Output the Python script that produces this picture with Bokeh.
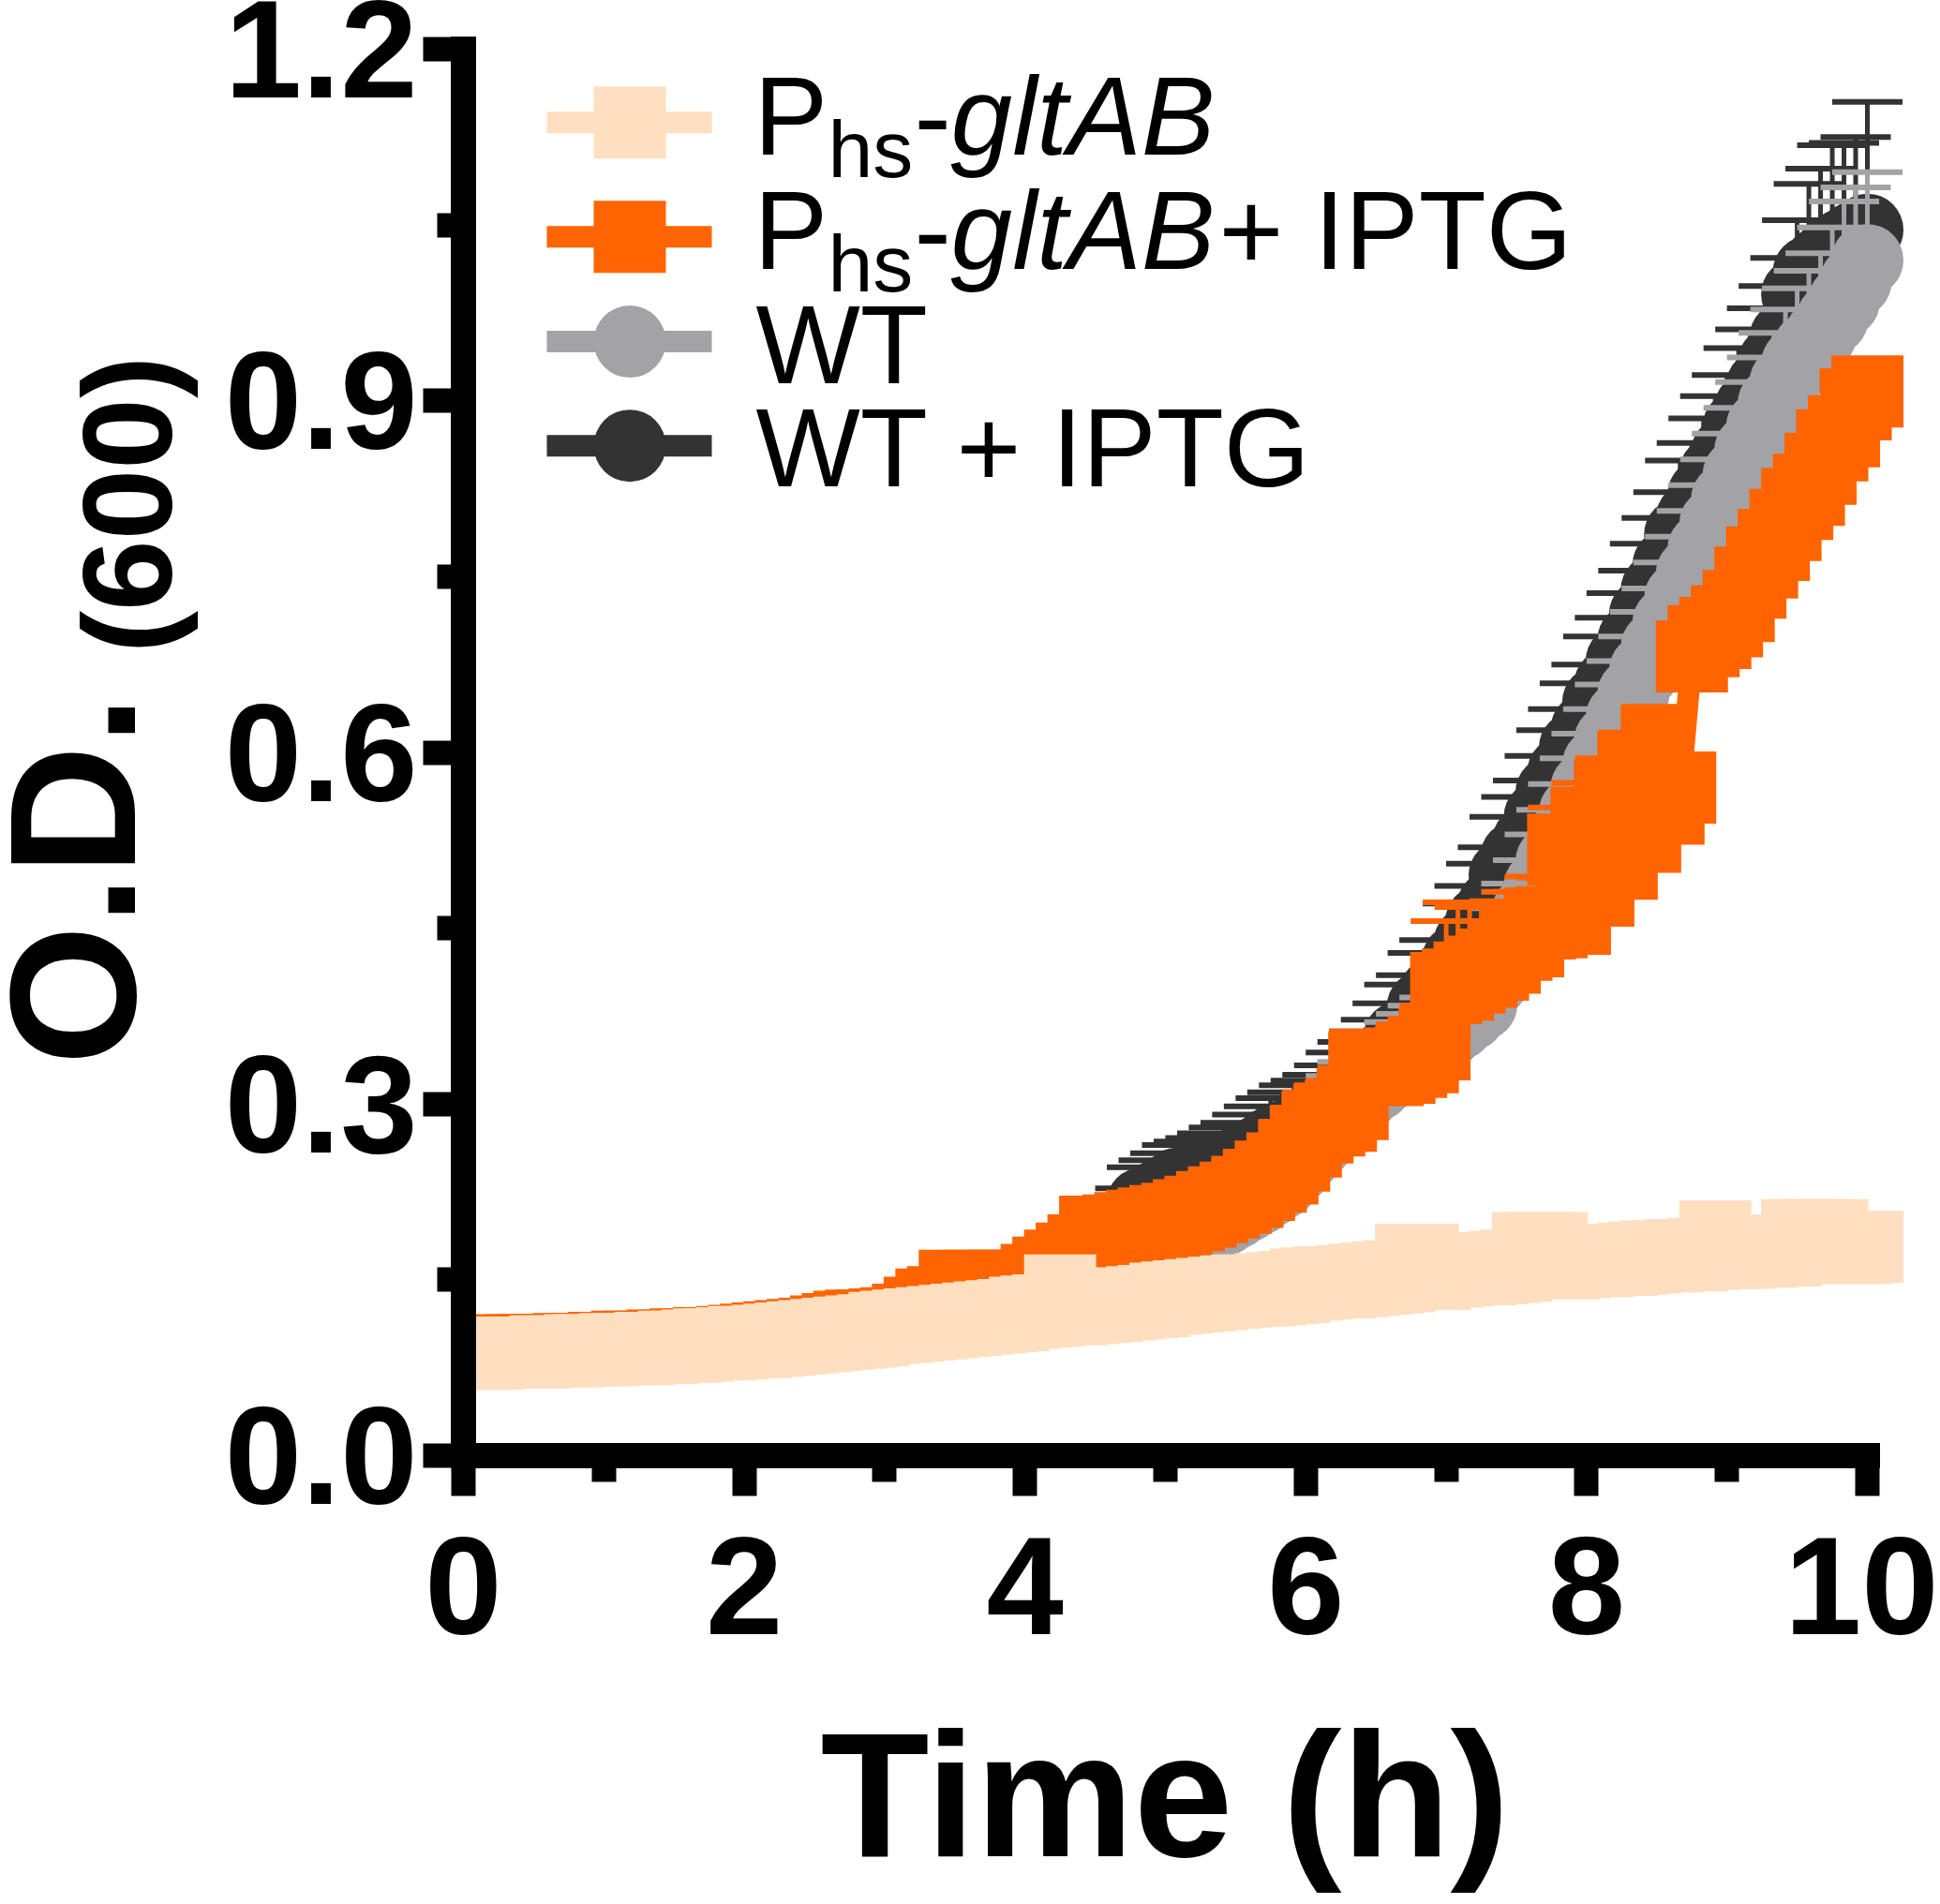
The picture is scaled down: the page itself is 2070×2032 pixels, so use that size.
import math
from bokeh.plotting import figure
from bokeh.models import (FixedTicker, PrintfTickFormatter, Label, Range1d, LinearAxis,
                          CustomJSTickFormatter)
from bokeh.embed import file_html
from bokeh.resources import INLINE

# ---------------- data ----------------
time_min = list(range(0, 605, 5))          # reading every 5 min, 0-10 h
time_h = [m / 60 for m in time_min]

series_names = ["Phs-gltAB", "Phs-gltAB + IPTG", "WT", "WT + IPTG"]

od_phs = [0.087, 0.087, 0.087, 0.088, 0.088, 0.088, 0.088, 0.089, 0.089, 0.089, 0.090, 0.090,
          0.090, 0.091, 0.091, 0.091, 0.092, 0.092, 0.093, 0.093, 0.094, 0.095, 0.095, 0.096,
          0.097, 0.097, 0.098, 0.099, 0.100, 0.101, 0.102, 0.103, 0.104, 0.105, 0.106, 0.107,
          0.109, 0.110, 0.111, 0.112, 0.113, 0.114, 0.115, 0.116, 0.117, 0.118, 0.119, 0.120,
          0.122, 0.123, 0.124, 0.141, 0.125, 0.126, 0.127, 0.128, 0.129, 0.130, 0.131, 0.132,
          0.134, 0.135, 0.136, 0.137, 0.138, 0.139, 0.140, 0.141, 0.141, 0.142, 0.143, 0.144,
          0.146, 0.147, 0.148, 0.148, 0.149, 0.150, 0.151, 0.152, 0.153, 0.167, 0.167, 0.155,
          0.157, 0.158, 0.159, 0.159, 0.160, 0.161, 0.162, 0.177, 0.177, 0.177, 0.164, 0.165,
          0.166, 0.166, 0.167, 0.167, 0.168, 0.169, 0.170, 0.170, 0.171, 0.171, 0.172, 0.187,
          0.173, 0.173, 0.174, 0.174, 0.175, 0.175, 0.188, 0.188, 0.188, 0.188, 0.177, 0.177,
          0.178]

od_phs_iptg = [0.089, 0.089, 0.089, 0.089, 0.090, 0.090, 0.090, 0.090, 0.090, 0.091, 0.091, 0.091,
               0.092, 0.092, 0.093, 0.093, 0.093, 0.094, 0.094, 0.095, 0.095, 0.096, 0.096, 0.097,
               0.098, 0.099, 0.100, 0.101, 0.102, 0.103, 0.104, 0.106, 0.108, 0.110, 0.111, 0.111,
               0.112, 0.113, 0.116, 0.122, 0.129, 0.131, 0.145, 0.144, 0.145, 0.143, 0.145, 0.144,
               0.145, 0.150, 0.156, 0.162, 0.168, 0.175, 0.191, 0.190, 0.192, 0.194, 0.196, 0.198,
               0.200, 0.202, 0.205, 0.208, 0.212, 0.216, 0.220, 0.225, 0.231, 0.238, 0.245, 0.256,
               0.268, 0.280, 0.286, 0.290, 0.300, 0.331, 0.330, 0.329, 0.331, 0.336, 0.340, 0.351,
               0.399, 0.402, 0.408, 0.413, 0.419, 0.425, 0.436, 0.439, 0.454, 0.455, 0.517, 0.458,
               0.540, 0.482, 0.563, 0.505, 0.587, 0.528, 0.610, 0.552, 0.570, 0.682, 0.695, 0.702,
               0.712, 0.725, 0.745, 0.762, 0.777, 0.794, 0.812, 0.824, 0.842, 0.862, 0.874, 0.897,
               0.908]

od_wt = [0.087, 0.088, 0.088, 0.088, 0.088, 0.089, 0.089, 0.089, 0.089, 0.090, 0.090, 0.090,
         0.091, 0.091, 0.091, 0.092, 0.092, 0.093, 0.093, 0.094, 0.094, 0.095, 0.095, 0.096,
         0.097, 0.097, 0.098, 0.099, 0.100, 0.101, 0.102, 0.103, 0.104, 0.105, 0.106, 0.108,
         0.109, 0.110, 0.112, 0.113, 0.115, 0.117, 0.118, 0.120, 0.122, 0.124, 0.126, 0.128,
         0.130, 0.133, 0.135, 0.138, 0.141, 0.144, 0.148, 0.152, 0.156, 0.165, 0.170, 0.175,
         0.180, 0.185, 0.189, 0.193, 0.197, 0.201, 0.207, 0.213, 0.219, 0.226, 0.233, 0.244,
         0.256, 0.267, 0.278, 0.289, 0.300, 0.308, 0.316, 0.324, 0.332, 0.339, 0.345, 0.352,
         0.360, 0.368, 0.376, 0.385, 0.405, 0.425, 0.445, 0.465, 0.486, 0.507, 0.528, 0.549,
         0.570, 0.590, 0.610, 0.630, 0.650, 0.670, 0.690, 0.711, 0.732, 0.753, 0.774, 0.795,
         0.816, 0.837, 0.858, 0.878, 0.898, 0.916, 0.932, 0.945, 0.956, 0.970, 0.985, 1.002,
         1.020]

od_wt_iptg = [0.088, 0.088, 0.088, 0.089, 0.089, 0.089, 0.089, 0.090, 0.090, 0.090, 0.091, 0.091,
              0.091, 0.092, 0.092, 0.093, 0.093, 0.094, 0.094, 0.095, 0.095, 0.096, 0.097, 0.097,
              0.098, 0.099, 0.100, 0.101, 0.102, 0.103, 0.104, 0.105, 0.106, 0.108, 0.109, 0.111,
              0.112, 0.114, 0.116, 0.118, 0.120, 0.122, 0.124, 0.126, 0.129, 0.131, 0.134, 0.137,
              0.140, 0.144, 0.148, 0.152, 0.157, 0.162, 0.168, 0.178, 0.188, 0.198, 0.215, 0.220,
              0.226, 0.232, 0.234, 0.237, 0.241, 0.245, 0.248, 0.254, 0.260, 0.267, 0.271, 0.277,
              0.281, 0.285, 0.293, 0.303, 0.311, 0.320, 0.329, 0.342, 0.357, 0.365, 0.383, 0.394,
              0.409, 0.423, 0.438, 0.456, 0.469, 0.495, 0.511, 0.524, 0.545, 0.566, 0.583, 0.604,
              0.620, 0.643, 0.658, 0.678, 0.696, 0.718, 0.739, 0.760, 0.786, 0.800, 0.820, 0.839,
              0.856, 0.878, 0.894, 0.913, 0.933, 0.954, 0.991, 1.010, 1.018, 1.028, 1.034, 1.040,
              1.046]

sd_phs_iptg = [0.004, 0.004, 0.004, 0.005, 0.004, 0.005, 0.005, 0.004, 0.005, 0.005, 0.005, 0.005,
               0.005, 0.006, 0.005, 0.006, 0.006, 0.006, 0.006, 0.007, 0.006, 0.007, 0.007, 0.007,
               0.007, 0.008, 0.008, 0.008, 0.008, 0.009, 0.009, 0.009, 0.010, 0.010, 0.010, 0.011,
               0.011, 0.012, 0.012, 0.013, 0.013, 0.014, 0.014, 0.015, 0.015, 0.016, 0.016, 0.017,
               0.017, 0.018, 0.018, 0.019, 0.019, 0.020, 0.020, 0.021, 0.021, 0.022, 0.022, 0.023,
               0.023, 0.024, 0.024, 0.025, 0.025, 0.026, 0.026, 0.027, 0.027, 0.028, 0.028, 0.029,
               0.029, 0.030, 0.030, 0.030, 0.031, 0.031, 0.031, 0.032, 0.032, 0.032, 0.033, 0.033,
               0.057, 0.070, 0.060, 0.055, 0.050, 0.048, 0.045, 0.042, 0.040, 0.038, 0.036, 0.035,
               0.034, 0.033, 0.032, 0.031, 0.030, 0.030, 0.029, 0.028, 0.028, 0.020, 0.020, 0.021,
               0.021, 0.021, 0.022, 0.022, 0.022, 0.023, 0.023, 0.023, 0.024, 0.024, 0.024, 0.025,
               0.025]

sd_wt = [0.003, 0.003, 0.004, 0.003, 0.004, 0.004, 0.003, 0.004, 0.004, 0.004, 0.004, 0.004,
         0.004, 0.005, 0.004, 0.005, 0.005, 0.005, 0.005, 0.005, 0.005, 0.006, 0.005, 0.006,
         0.006, 0.006, 0.006, 0.006, 0.007, 0.007, 0.007, 0.007, 0.007, 0.008, 0.008, 0.008,
         0.008, 0.009, 0.009, 0.009, 0.010, 0.010, 0.011, 0.011, 0.012, 0.012, 0.013, 0.013,
         0.014, 0.015, 0.016, 0.017, 0.018, 0.019, 0.020, 0.021, 0.022, 0.024, 0.025, 0.026,
         0.027, 0.027, 0.028, 0.029, 0.029, 0.030, 0.031, 0.031, 0.032, 0.032, 0.033, 0.033,
         0.034, 0.034, 0.035, 0.035, 0.036, 0.036, 0.037, 0.037, 0.038, 0.038, 0.039, 0.039,
         0.040, 0.040, 0.041, 0.041, 0.042, 0.042, 0.043, 0.043, 0.044, 0.044, 0.045, 0.046,
         0.046, 0.047, 0.048, 0.048, 0.049, 0.050, 0.050, 0.051, 0.052, 0.053, 0.054, 0.055,
         0.056, 0.057, 0.058, 0.059, 0.060, 0.062, 0.064, 0.066, 0.070, 0.078, 0.085, 0.080,
         0.075]

sd_wt_iptg = [0.004, 0.004, 0.004, 0.005, 0.004, 0.004, 0.005, 0.004, 0.005, 0.005, 0.004, 0.005,
              0.005, 0.005, 0.006, 0.005, 0.005, 0.006, 0.006, 0.005, 0.006, 0.006, 0.006, 0.007,
              0.007, 0.006, 0.007, 0.007, 0.008, 0.007, 0.008, 0.008, 0.008, 0.009, 0.009, 0.009,
              0.010, 0.010, 0.011, 0.011, 0.012, 0.012, 0.013, 0.013, 0.014, 0.014, 0.015, 0.016,
              0.017, 0.018, 0.019, 0.020, 0.022, 0.023, 0.025, 0.027, 0.028,
              0.030, 0.031, 0.032, 0.032, 0.033, 0.034, 0.034, 0.034, 0.035, 0.036, 0.037, 0.038,
              0.038, 0.039, 0.039, 0.039, 0.040, 0.040, 0.041, 0.042, 0.042, 0.043, 0.044, 0.045,
              0.045, 0.046, 0.046, 0.047, 0.048, 0.048, 0.049, 0.050, 0.050, 0.051, 0.052, 0.052,
              0.053, 0.054, 0.055, 0.055, 0.056, 0.057, 0.058, 0.059, 0.060, 0.061, 0.062, 0.063,
              0.064, 0.065, 0.065, 0.066, 0.067, 0.067, 0.066, 0.065, 0.068, 0.063, 0.075, 0.080,
              0.090, 0.086, 0.085, 0.109]

x_ticks = [0, 2, 4, 6, 8, 10]
x_minor = [1, 3, 5, 7, 9]
y_ticks = [0.0, 0.3, 0.6, 0.9, 1.2]
y_minor = [0.15, 0.45, 0.75, 1.05]

# ---------------- styles ----------------
TAN = "#FFDFC0"
ORANGE = "#FF6400"
GRAY = "#A2A2A7"
DARK = "#333333"
FONT = "Liberation Sans"
NBSP = "\u00a0"

MARKER = 77
CAP = 75
PX_Y = 1501 / 1.2      # pixels per OD unit
PX_X = 149.8           # pixels per hour
LEFT = 494             # page x of the y axis

p = figure(frame_width=1550, frame_height=1501,
           x_range=Range1d(0, 1550 / PX_X), y_range=Range1d(0, 1.2),
           output_backend="svg", toolbar_location=None,
           min_border_left=LEFT, min_border_top=52, min_border_right=24, min_border_bottom=470,
           background_fill_color="white", border_fill_color="white", outline_line_color=None)
p.xgrid.visible = False
p.ygrid.visible = False


def draw_series(y, color, marker, sd=None):
    if sd is not None:
        tops = [a + b for a, b in zip(y, sd)]
        p.segment(x0=time_h, y0=y, x1=time_h, y1=tops, line_color=color, line_width=5)
        p.scatter(x=time_h, y=tops, marker="dash", size=CAP, line_color=color, line_width=6)
    p.line(time_h, y, line_color=color, line_width=23)
    p.scatter(x=time_h, y=y, marker=marker, size=MARKER, fill_color=color, line_color=None)


draw_series(od_wt_iptg, DARK, "circle", sd_wt_iptg)
draw_series(od_wt, GRAY, "circle", sd_wt)
draw_series(od_phs_iptg, ORANGE, "square", sd_phs_iptg)
draw_series(od_phs, TAN, "square")

# ---------------- axes ----------------
for ax in (p.xaxis[0], p.yaxis[0]):
    ax.axis_line_width = 27
    ax.axis_line_cap = "square"
    ax.major_tick_line_width = 26
    ax.minor_tick_line_width = 26
    ax.major_tick_in = 0
    ax.minor_tick_in = 0
    ax.major_tick_out = 43
    ax.minor_tick_out = 28
    ax.major_label_text_font = FONT
    ax.major_label_text_font_style = "bold"
    ax.major_label_text_font_size = "148px"
    ax.major_label_text_color = "black"

p.xaxis.ticker = FixedTicker(ticks=x_ticks, minor_ticks=x_minor)
p.yaxis.ticker = FixedTicker(ticks=y_ticks, minor_ticks=y_minor)
p.yaxis.formatter = PrintfTickFormatter(format="%.1f")
p.xaxis.bounds = (0, 10)
p.xaxis.major_label_standoff = 44
p.yaxis.major_label_standoff = 6

# trailing no-break space re-centres the title under the 0-10 axis
p.xaxis.axis_label = "Time (h)" + NBSP
p.xaxis.axis_label_text_font = FONT
p.xaxis.axis_label_text_font_style = "bold"
p.xaxis.axis_label_text_font_size = "190px"
p.xaxis.axis_label_text_color = "black"
p.xaxis.axis_label_standoff = 62

# y title "O.D.(600)": an extra, line-less left axis whose single tick label is "O.D." and
# whose axis label is the smaller subscript "(600)" (pulled back inwards, shifted up with
# non-breaking spaces because axis labels are centred on the axis).
title_ax = LinearAxis(ticker=FixedTicker(ticks=[0.491], minor_ticks=[]),
                      formatter=CustomJSTickFormatter(code="return 'O.D.'"),
                      axis_line_color=None, major_tick_line_color=None, minor_tick_line_color=None,
                      major_tick_in=0, major_tick_out=0, major_label_orientation="vertical",
                      major_label_standoff=51, major_label_text_font=FONT,
                      major_label_text_font_style="bold", major_label_text_font_size="192px",
                      major_label_text_color="black",
                      axis_label=NBSP * 14 + "(600)", axis_label_standoff=-244,
                      axis_label_text_font=FONT, axis_label_text_font_style="bold",
                      axis_label_text_font_size="136px", axis_label_text_color="black")
p.add_layout(title_ax, "left")

BASE_SHIFT = 0.315   # em: correction so that the label's y is its alphabetic baseline


def txt(xpx, ypx, s, size=118, style="normal"):
    """xpx, ypx: page pixel position of the text baseline origin."""
    ypx = ypx - BASE_SHIFT * size
    x = (xpx - LEFT) / PX_X
    y = (1553 - ypx) / PX_Y
    p.add_layout(Label(x=x, y=y, text=s, text_font=FONT, text_font_size=f"{size}px",
                       text_font_style=style, text_align="left", text_baseline="alphabetic",
                       text_color="black"))


# ---------------- legend ----------------
leg_rows_y = [1.1375, 1.040, 0.9505, 0.8617]
leg_colors = [TAN, ORANGE, GRAY, DARK]
leg_markers = ["square", "square", "circle", "circle"]
for yy, c, m in zip(leg_rows_y, leg_colors, leg_markers):
    p.segment(x0=[0.594], y0=[yy], x1=[1.769], y1=[yy], line_color=c, line_width=23)
    p.scatter(x=[1.185], y=[yy], marker=m, size=MARKER, fill_color=c, line_color=None)

for base, sub, extra in [(161, 186, None), (283, 308, "+ IPTG")]:
    txt(804, base, "P")
    txt(883, sub, "hs", size=86)
    txt(975, base, "-")
    txt(1014, base, "gltAB", style="italic")
    if extra:
        txt(1300, base, extra)
txt(806, 405, "WT")
txt(806, 515, "WT + IPTG")

open("out.html", "w").write(file_html(p, INLINE))
